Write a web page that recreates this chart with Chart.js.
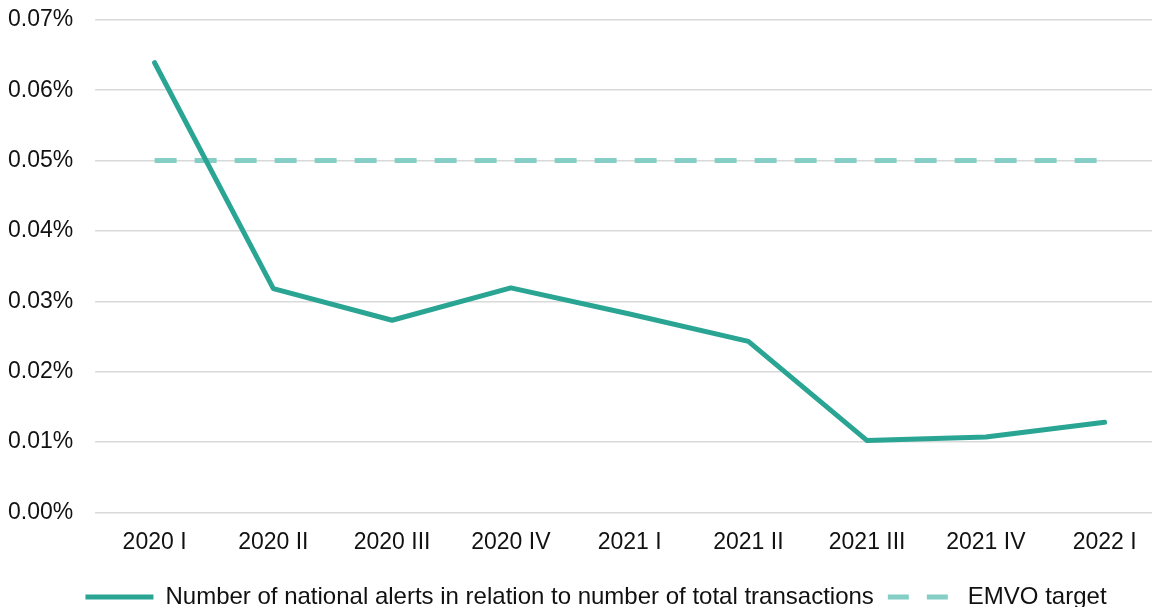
<!DOCTYPE html>
<html>
<head>
<meta charset="utf-8">
<script src="https://cdn.jsdelivr.net/npm/chart.js@4/dist/chart.umd.min.js"></script>
<style>
  html, body { margin: 0; padding: 0; background: #fff; overflow: hidden; }
  #wrap { width: 1164px; height: 635px; margin-top: -16px; position: relative; }
</style>
</head>
<body>
<div id="wrap"><canvas id="myChart"></canvas></div>
<script>
// quarters on the x axis
var quarters = ['2020 I', '2020 II', '2020 III', '2020 IV', '2021 I', '2021 II', '2021 III', '2021 IV', '2022 I'];
// share of national alerts vs total transactions, in %
var alertShare = [0.0639, 0.0318, 0.0273, 0.0319, 0.0282, 0.0243, 0.0102, 0.0107, 0.0128];
// EMVO target, in %
var emvoTarget = [0.05, 0.05, 0.05, 0.05, 0.05, 0.05, 0.05, 0.05, 0.05];
var yTicks = [0, 0.01, 0.02, 0.03, 0.04, 0.05, 0.06, 0.07];

Chart.defaults.font.family = "'Liberation Sans', Arial, sans-serif";
Chart.defaults.color = '#111';

// nudge the legend to the right like in the original
var shiftLegend = {
  id: 'shiftLegend',
  afterLayout: function(chart) {
    chart.legend.left += 21;
    chart.legend.right += 21;
  }
};

var ctx = document.getElementById('myChart');
var myChart = new Chart(ctx, {
  type: 'line',
  data: {
    labels: quarters,
    datasets: [
      {
        label: 'Number of national alerts in relation to number of total transactions',
        data: alertShare,
        borderColor: '#2aa594',
        backgroundColor: '#2aa594',
        borderWidth: 5,
        pointRadius: 0,
        tension: 0,
        borderCapStyle: 'round',
        borderJoinStyle: 'round'
      },
      {
        label: 'EMVO target',
        data: emvoTarget,
        borderColor: '#84cec5',
        backgroundColor: '#84cec5',
        borderWidth: 5,
        borderDash: [22, 18],
        pointRadius: 0,
        tension: 0
      }
    ]
  },
  plugins: [shiftLegend],
  options: {
    responsive: true,
    maintainAspectRatio: false,
    animation: false,
    layout: { padding: { top: -9, left: -14, right: 0, bottom: 0 } },
    plugins: {
      tooltip: { enabled: false },
      legend: {
        position: 'bottom',
        labels: {
          usePointStyle: true,
          pointStyle: 'line',
          pointStyleWidth: 68,
          padding: 14,
          font: { size: 24 },
          color: '#111',
          generateLabels: function(chart) {
            var items = Chart.defaults.plugins.legend.labels.generateLabels(chart);
            items.forEach(function(it) {
              it.pointStyle = 'line';
              if (it.datasetIndex === 1) it.lineDash = [21, 18];
            });
            return items;
          }
        }
      }
    },
    scales: {
      x: {
        offset: true,
        grid: { display: false },
        border: { display: false },
        ticks: { font: { size: 23 }, color: '#111', padding: 8, maxRotation: 0 },
        afterFit: function(scale) { scale.height += 7; }
      },
      y: {
        min: 0,
        max: 0.07,
        afterBuildTicks: function(axis) {
          axis.ticks = yTicks.map(function(v) { return { value: v }; });
        },
        grid: { color: '#d9d9d9', lineWidth: 1.5, drawTicks: false },
        border: { display: false },
        ticks: {
          font: { size: 23 },
          color: '#111',
          padding: 22,
          callback: function(v) { return v.toFixed(2) + '%'; }
        }
      }
    }
  }
});
</script>
</body>
</html>
